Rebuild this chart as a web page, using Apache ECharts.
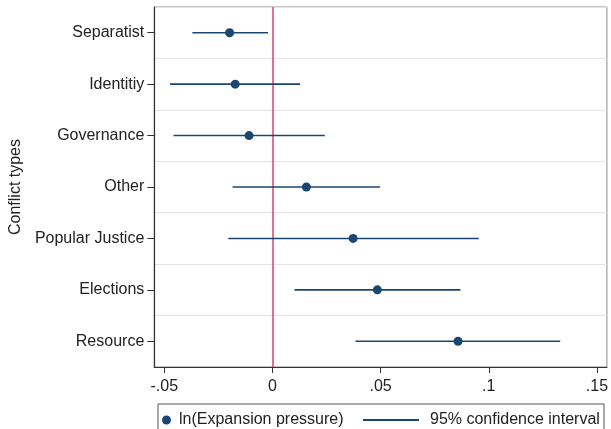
<!DOCTYPE html>
<html>
<head>
<meta charset="utf-8">
<script src="https://cdn.jsdelivr.net/npm/echarts@6/dist/echarts.min.js"></script>
<style>
  html, body { margin: 0; padding: 0; background: #fff; }
  #chart { width: 611px; height: 429px; }
</style>
</head>
<body>
<div id="chart"></div>
<script>
// conflict types, top to bottom
var categories = ['Separatist', 'Identitiy', 'Governance', 'Other', 'Popular Justice', 'Elections', 'Resource'];
// point estimates and 95% CI bounds
var estimates = [-0.0198, -0.0172, -0.0108, 0.0157, 0.0373, 0.0485, 0.0858];
var ciLow = [-0.037, -0.0473, -0.0457, -0.0184, -0.0204, 0.0102, 0.0384];
var ciHigh = [-0.002, 0.0128, 0.0242, 0.0498, 0.0954, 0.0869, 0.133];
var xTicks = [-0.05, 0, 0.05, 0.1, 0.15];

var navy = '#1a476f';
var font = 'Liberation Sans, Arial, sans-serif';

var chart = echarts.init(document.getElementById('chart'));

var ciData = categories.map(function (c, i) {
    return [ciLow[i], ciHigh[i], i];
});
var pointData = categories.map(function (c, i) {
    return [estimates[i], i];
});

var option = {
    backgroundColor: '#fff',
    animation: false,
    grid: {
        left: 151, right: 2, top: 7, bottom: 62,
        show: true,
        borderColor: '#8a8a8a',
        borderWidth: 1
    },
    xAxis: {
        type: 'value',
        min: -0.0546,
        max: 0.1546,
        axisLine: { show: true, onZero: false, lineStyle: { color: '#333', width: 1.2 } },
        axisTick: { show: true, length: 6, lineStyle: { color: '#333' }, customValues: xTicks },
        axisLabel: {
            color: '#222', fontSize: 16, fontFamily: font, margin: 12,
            customValues: xTicks,
            formatter: function (v) {
                if (v === 0) return '0';
                var s = String(Math.round(v * 100) / 100);
                return s.replace('0.', '.');
            }
        },
        splitLine: { show: false }
    },
    yAxis: {
        type: 'category',
        data: categories,
        inverse: true,
        name: 'Conflict types',
        nameLocation: 'middle',
        nameGap: 130,
        nameTextStyle: { color: '#222', fontSize: 16, fontFamily: font },
        axisLine: { show: true, onZero: false, lineStyle: { color: '#333', width: 1.2 } },
        axisTick: { show: true, alignWithLabel: true, length: 7, lineStyle: { color: '#333' } },
        axisLabel: { color: '#222', fontSize: 16, fontFamily: font, margin: 10 },
        splitLine: { show: true, interval: 0, lineStyle: { color: '#e4e4e4', width: 1 } }
    },
    legend: [{
        data: ['ln(Expansion pressure)'],
        left: 157, top: 407,
        icon: 'circle',
        itemWidth: 9, itemHeight: 9,
        textStyle: { color: '#222', fontSize: 16, fontFamily: font, padding: [0, 0, 0, 3] }
    }, {
        data: ['95% confidence interval'],
        left: 358, top: 407,
        icon: 'rect',
        itemWidth: 56, itemHeight: 2,
        textStyle: { color: '#222', fontSize: 16, fontFamily: font, padding: [0, 0, 0, 6] }
    }],
    graphic: [{
        type: 'rect',
        shape: { x: 158, y: 404, width: 446, height: 40 },
        style: { fill: 'none', stroke: '#555', lineWidth: 1 },
        z: 0
    }],
    series: [{
        name: '95% confidence interval',
        type: 'custom',
        itemStyle: { color: navy },
        data: ciData,
        encode: { x: [0, 1], y: 2 },
        renderItem: function (params, api) {
            var a = api.coord([api.value(0), api.value(2)]);
            var b = api.coord([api.value(1), api.value(2)]);
            return {
                type: 'line',
                shape: { x1: a[0], y1: a[1], x2: b[0], y2: b[1] },
                style: { stroke: navy, lineWidth: 1.6 }
            };
        },
        z: 3
    }, {
        name: 'ln(Expansion pressure)',
        type: 'scatter',
        symbol: 'circle',
        symbolSize: 9,
        itemStyle: { color: navy, opacity: 1 },
        data: pointData,
        z: 4,
        markLine: {
            silent: true,
            symbol: 'none',
            label: { show: false },
            lineStyle: { color: '#e0406a', type: 'solid', width: 1.5 },
            data: [{ xAxis: 0 }],
            z: 2
        }
    }]
};

chart.setOption(option);
</script>
</body>
</html>
